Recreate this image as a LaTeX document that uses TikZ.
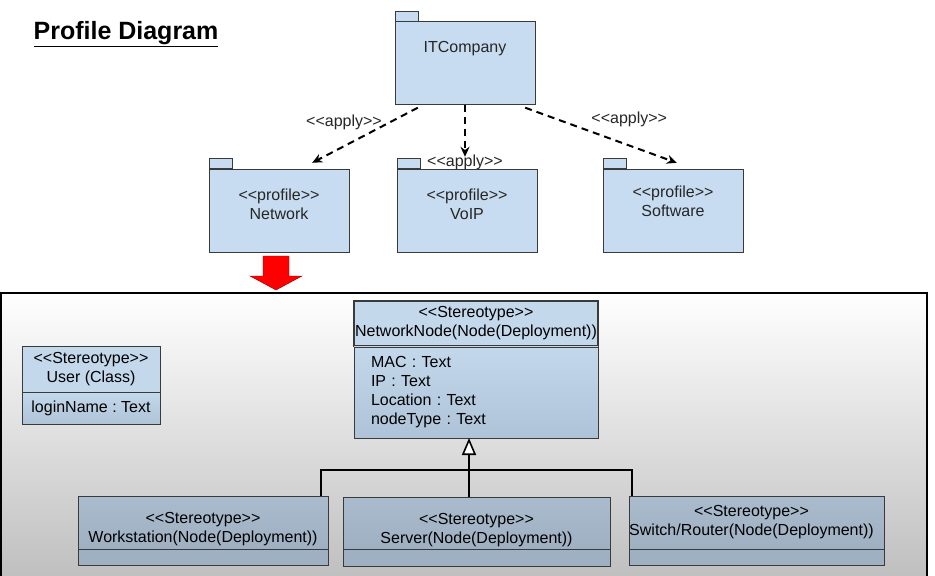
\documentclass[tikz,border=0pt]{standalone}
\usepackage{fontspec}
\setmainfont{Liberation Sans}
\usepackage{tikz}
\usetikzlibrary{shapes,positioning,calc,arrows.meta}

\definecolor{pkgblue}{HTML}{C7DCF0}
\definecolor{clsblue}{HTML}{C4D8EC}
\definecolor{clsblue2}{HTML}{AEC3D7}
\definecolor{clsgray}{HTML}{A9BBCD}
\definecolor{clsgray2}{HTML}{9EB0C2}
\definecolor{linegray}{HTML}{3A3A3A}

\newcommand\uml[1]{<\kern0pt<#1>\kern0pt>}
\frenchspacing

\begin{document}
\begin{tikzpicture}[x=1pt,y=-1pt,
	font=\fontsize{16}{19}\selectfont,
	package/.style={draw=linegray, fill=pkgblue,
		minimum width=140pt, minimum height=83pt, inner sep=0pt},
	pkgtab/.style={draw=linegray, fill=pkgblue, anchor=south west,
		minimum width=23pt, minimum height=10pt, inner sep=0pt},
	pkgtext/.style={align=center, inner sep=1pt, text=black!85},
	apply/.style={line width=2pt, dash pattern=on 7pt off 5pt,
		-{Stealth[length=10pt,width=9pt]}},
	applytext/.style={inner sep=1pt, text=black!85},
	clshead/.style={draw=linegray, fill=clsblue, align=center, inner sep=0pt},
	clsattr/.style={draw=linegray, top color=clsblue, bottom color=clsblue2,
		align=left, inner xsep=17pt, inner ysep=0pt},
	subhd/.style={draw=linegray, top color=clsgray, bottom color=clsgray2,
		inner sep=0pt},
	subtext/.style={align=center, inner sep=0pt},
	subft/.style={draw=linegray, fill=clsgray2, inner sep=0pt},
	genline/.style={line width=1.6pt}
	]
	\useasboundingbox[fill=white] (0,0) rectangle (935,576);

	% title
	\node[font=\fontsize{25}{28}\selectfont\bfseries, inner sep=0pt] (title)
		at (126,34) {\underline{Profile Diagram}};

	% packages
	\node[package] (it) at (465,63) {};
	\node[pkgtab] (ittab) at (it.north west) {};
	\node[pkgtext, below=19pt of it.north] (itname) {ITCompany};

	\node[package] (net) at (279,210.5) {};
	\node[pkgtab] (nettab) at (net.north west) {};
	\node[pkgtext, below=19pt of net.north] (netname) {\uml{profile}\\Network};

	\node[package] (voip) at (467,210.5) {};
	\node[pkgtab] (voiptab) at (voip.north west) {};
	\node[pkgtext, below=19pt of voip.north] (voipname) {\uml{profile}\\VoIP};

	\node[package] (sw) at (673,210.5) {};
	\node[pkgtab] (swtab) at (sw.north west) {};
	\node[pkgtext, below=16pt of sw.north] (swname) {\uml{profile}\\Software};

	\draw[apply] ([xshift=23pt,yshift=-3pt]it.south west)
		-- node[applytext, pos=0.35, above left, xshift=3pt, yshift=-5pt] (apply1) {\uml{apply}}
		([xshift=-37pt,yshift=6pt]net.north east);
	\draw[apply, shorten >=12pt] (it.south) -- (it.south |- voip.north);
	\node[applytext, anchor=south, yshift=-2pt] (apply2) at (it.south |- voip.north) {\uml{apply}};
	\draw[apply] ([xshift=-10pt,yshift=-3pt]it.south east)
		-- node[applytext, pos=0.45, above right, xshift=-4pt, yshift=4pt] (apply3) {\uml{apply}}
		([xshift=74pt,yshift=6pt]sw.north west);

	% red arrow
	\filldraw[fill=red, draw=red!55!black, thin]
		(263,256) -- (289,256) -- (289,276) -- (302,276) -- (276,290)
		-- (250,276) -- (263,276) -- cycle;

	% profile frame
	\shade[top color=white, bottom color=gray!50] (1,293) rectangle (927,576);
	\draw[line width=2pt] (1,576) -- (1,293) -- (927,293) -- (927,576);

	% stereotypes
	\node[clshead, minimum width=138pt, minimum height=46pt] (userhd)
		at (91,369) {\uml{Stereotype}\\User (Class)};
	\node[clsattr, align=center, inner xsep=0pt, minimum width=138pt,
		minimum height=32pt, below=0pt of userhd] (userat) {loginName : Text};

	\node[clshead, line width=1.2pt, minimum width=244pt, minimum height=45pt] (nnhd)
		at (476,323.5) {\uml{Stereotype}\\NetworkNode(Node(Deployment))};
	\node[clsattr, text width=210pt, minimum height=91pt,
		below=0pt of nnhd] (nnat) {MAC : Text\\IP : Text\\Location : Text\\nodeType : Text};

	\node[subhd, minimum width=250pt, minimum height=53pt] (wshd) at (203,522.5) {};
	\node[subtext] (wsname) at ([yshift=-7pt]wshd.center)
		{\uml{Stereotype}\\Workstation(Node(Deployment))};
	\node[subft, minimum width=250pt, minimum height=16pt,
		below=0pt of wshd] (wsft) {};

	\node[subhd, minimum width=267pt, minimum height=52pt] (srvhd) at (476.5,523) {};
	\node[subtext] (srvname) at ([yshift=-7pt]srvhd.center)
		{\uml{Stereotype}\\Server(Node(Deployment))};
	\node[subft, minimum width=267pt, minimum height=17pt,
		below=0pt of srvhd] (srvft) {};

	\node[subhd, minimum width=255pt, minimum height=53pt] (swhd) at (756.5,522.5) {};
	\node[subtext] (swtname) at ([xshift=-5pt]swhd.center)
		{\uml{Stereotype}\\Switch/Router(Node(Deployment))};
	\node[subft, minimum width=255pt, minimum height=16pt,
		below=0pt of swhd] (swft) {};

	% generalization
	\coordinate (joint) at (469,470);
	\draw[genline, -{Triangle[length=17pt,width=14pt,fill=white]}]
		(joint) -- (joint |- nnat.south);
	\draw[genline] (joint) -- (joint |- srvhd.north);
	\draw[genline] ([xshift=-7pt]wshd.north east) |- (joint)
		-| ([xshift=3pt]swhd.north west);

\end{tikzpicture}
\end{document}
